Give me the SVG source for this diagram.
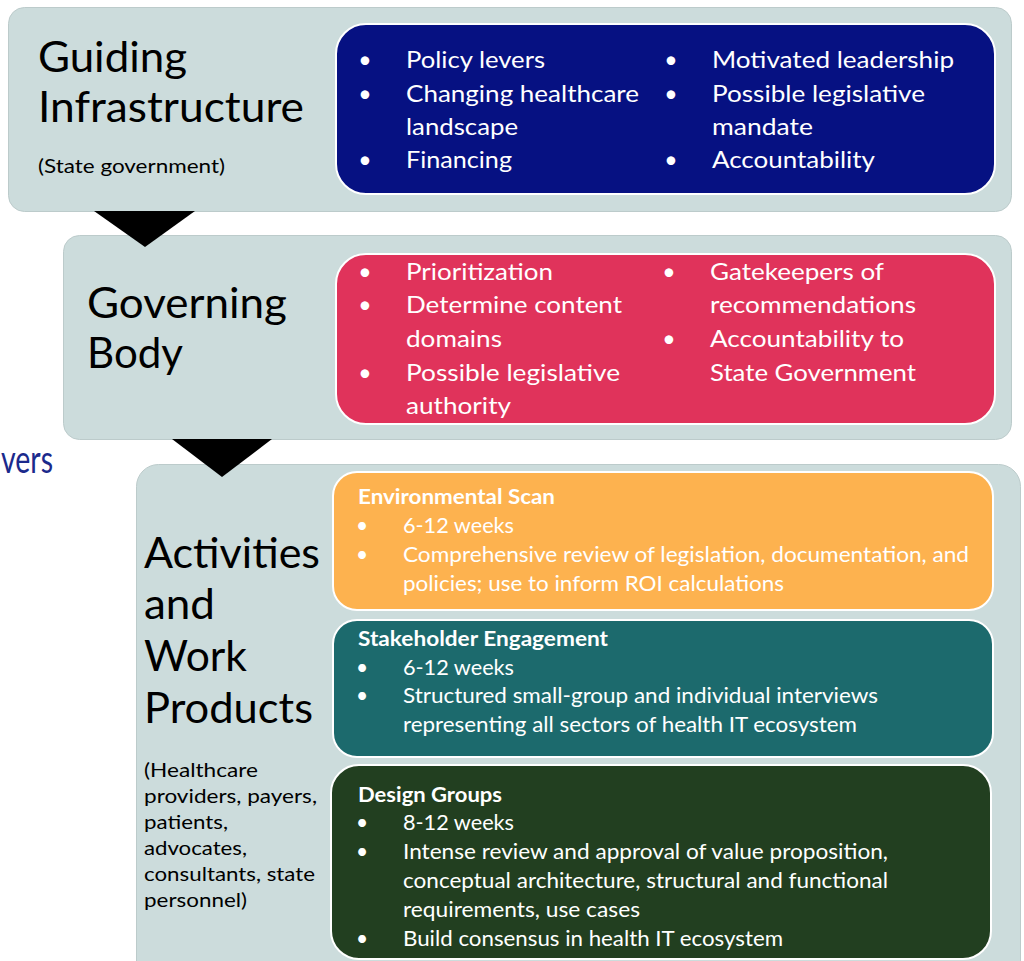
<svg xmlns="http://www.w3.org/2000/svg" width="1024" height="961" viewBox="0 0 1024 961">
<style>
.panel{fill:#CCDCDC;stroke:#BCCBCB;stroke-width:1}
.inner{stroke:#FFFFFF;stroke-width:2}
.t{font-family:Lato,"Liberation Sans",sans-serif;fill:#000}
.title{font-size:42px}
.sub{font-size:20px}
.w{font-family:Lato,"Liberation Sans",sans-serif;fill:#FFFFFF}
.b1{font-size:23px}
.b2{font-size:21px}
.hd{font-size:20px;font-weight:bold}
.dot{text-anchor:middle}
.arrow{fill:#000}
</style>
<rect width="1024" height="961" fill="#FFFFFF"/>
<text x="1" y="473" textLength="52" lengthAdjust="spacingAndGlyphs" font-family="Lato,'Liberation Sans',sans-serif" font-size="38" fill="#1B2A8C">vers</text>
<g id="guiding-infrastructure">
<rect class="panel" x="8.5" y="7.5" width="1003" height="204" rx="16"/>
<text class="t title" x="38" y="72" textLength="149" lengthAdjust="spacingAndGlyphs">Guiding</text>
<text class="t title" x="38" y="122" textLength="266" lengthAdjust="spacingAndGlyphs">Infrastructure</text>
<text class="t sub" x="38" y="173" textLength="187" lengthAdjust="spacingAndGlyphs">(State government)</text>
<rect class="inner" x="336" y="24" width="659" height="170" rx="30" fill="#061182"/>
<g class="w b1">
<text class="dot" x="365" y="68">•</text><text x="406" y="68" textLength="139" lengthAdjust="spacingAndGlyphs">Policy levers</text>
<text class="dot" x="365" y="102">•</text><text x="406" y="102" textLength="233" lengthAdjust="spacingAndGlyphs">Changing healthcare</text>
<text x="406" y="135" textLength="112" lengthAdjust="spacingAndGlyphs">landscape</text>
<text class="dot" x="365" y="168">•</text><text x="406" y="168" textLength="106" lengthAdjust="spacingAndGlyphs">Financing</text>
<text class="dot" x="671" y="68">•</text><text x="712" y="68" textLength="242" lengthAdjust="spacingAndGlyphs">Motivated leadership</text>
<text class="dot" x="671" y="102">•</text><text x="712" y="102" textLength="213" lengthAdjust="spacingAndGlyphs">Possible legislative</text>
<text x="712" y="135" textLength="101" lengthAdjust="spacingAndGlyphs">mandate</text>
<text class="dot" x="671" y="168">•</text><text x="712" y="168" textLength="163" lengthAdjust="spacingAndGlyphs">Accountability</text>
</g>
</g>
<g id="governing-body">
<rect class="panel" x="63.5" y="235.5" width="948" height="204" rx="16"/>
<text class="t title" x="87" y="318" textLength="200" lengthAdjust="spacingAndGlyphs">Governing</text>
<text class="t title" x="87" y="368" textLength="96" lengthAdjust="spacingAndGlyphs">Body</text>
<rect class="inner" x="336" y="254" width="659" height="170" rx="30" fill="#E0335B"/>
<g class="w b1">
<text class="dot" x="365" y="280">•</text><text x="406" y="280" textLength="147" lengthAdjust="spacingAndGlyphs">Prioritization</text>
<text class="dot" x="365" y="313">•</text><text x="406" y="313" textLength="216" lengthAdjust="spacingAndGlyphs">Determine content</text>
<text x="406" y="347" textLength="96" lengthAdjust="spacingAndGlyphs">domains</text>
<text class="dot" x="365" y="381">•</text><text x="406" y="381" textLength="214" lengthAdjust="spacingAndGlyphs">Possible legislative</text>
<text x="406" y="414" textLength="105" lengthAdjust="spacingAndGlyphs">authority</text>
<text class="dot" x="669" y="280">•</text><text x="710" y="280" textLength="174" lengthAdjust="spacingAndGlyphs">Gatekeepers of</text>
<text x="710" y="313" textLength="206" lengthAdjust="spacingAndGlyphs">recommendations</text>
<text class="dot" x="669" y="347">•</text><text x="710" y="347" textLength="194" lengthAdjust="spacingAndGlyphs">Accountability to</text>
<text x="710" y="381" textLength="206" lengthAdjust="spacingAndGlyphs">State Government</text>
</g>
</g>
<g id="activities">
<rect class="panel" x="136.5" y="464.5" width="884" height="520" rx="22"/>
<text class="t title" x="144" y="568" textLength="176" lengthAdjust="spacingAndGlyphs">Activities</text>
<text class="t title" x="144" y="619" textLength="71" lengthAdjust="spacingAndGlyphs">and</text>
<text class="t title" x="144" y="671" textLength="103" lengthAdjust="spacingAndGlyphs">Work</text>
<text class="t title" x="144" y="723" textLength="169" lengthAdjust="spacingAndGlyphs">Products</text>
<text class="t sub" x="144" y="777" textLength="114" lengthAdjust="spacingAndGlyphs">(Healthcare</text>
<text class="t sub" x="144" y="803" textLength="173" lengthAdjust="spacingAndGlyphs">providers, payers,</text>
<text class="t sub" x="144" y="829" textLength="84" lengthAdjust="spacingAndGlyphs">patients,</text>
<text class="t sub" x="144" y="855" textLength="103" lengthAdjust="spacingAndGlyphs">advocates,</text>
<text class="t sub" x="144" y="881" textLength="171" lengthAdjust="spacingAndGlyphs">consultants, state</text>
<text class="t sub" x="144" y="907" textLength="103" lengthAdjust="spacingAndGlyphs">personnel)</text>
</g>
<g id="environmental-scan">
<rect class="inner" x="333" y="472" width="660" height="138" rx="24" fill="#FDB24F"/>
<g class="w b2">
<text class="hd" x="358" y="504" textLength="197" lengthAdjust="spacingAndGlyphs">Environmental Scan</text>
<text class="dot" x="362" y="533">•</text><text x="403" y="533" textLength="111" lengthAdjust="spacingAndGlyphs">6-12 weeks</text>
<text class="dot" x="362" y="562">•</text><text x="403" y="562" textLength="566" lengthAdjust="spacingAndGlyphs">Comprehensive review of legislation, documentation, and</text>
<text x="403" y="591" textLength="381" lengthAdjust="spacingAndGlyphs">policies; use to inform ROI calculations</text>
</g>
</g>
<g id="stakeholder-engagement">
<rect class="inner" x="333" y="620" width="660" height="137" rx="24" fill="#1C6A6D"/>
<g class="w b2">
<text class="hd" x="358" y="646" textLength="250" lengthAdjust="spacingAndGlyphs">Stakeholder Engagement</text>
<text class="dot" x="362" y="675">•</text><text x="403" y="675" textLength="111" lengthAdjust="spacingAndGlyphs">6-12 weeks</text>
<text class="dot" x="362" y="703">•</text><text x="403" y="703" textLength="475" lengthAdjust="spacingAndGlyphs">Structured small-group and individual interviews</text>
<text x="403" y="732" textLength="454" lengthAdjust="spacingAndGlyphs">representing all sectors of health IT ecosystem</text>
</g>
</g>
<g id="design-groups">
<rect class="inner" x="331" y="765" width="660" height="194" rx="28" fill="#223F20"/>
<g class="w b2">
<text class="hd" x="358" y="802" textLength="144" lengthAdjust="spacingAndGlyphs">Design Groups</text>
<text class="dot" x="362" y="830">•</text><text x="403" y="830" textLength="111" lengthAdjust="spacingAndGlyphs">8-12 weeks</text>
<text class="dot" x="362" y="859">•</text><text x="403" y="859" textLength="485" lengthAdjust="spacingAndGlyphs">Intense review and approval of value proposition,</text>
<text x="403" y="888" textLength="485" lengthAdjust="spacingAndGlyphs">conceptual architecture, structural and functional</text>
<text x="403" y="917" textLength="237" lengthAdjust="spacingAndGlyphs">requirements, use cases</text>
<text class="dot" x="362" y="946">•</text><text x="403" y="946" textLength="380" lengthAdjust="spacingAndGlyphs">Build consensus in health IT ecosystem</text>
</g>
</g>
<g id="connectors">
<polygon class="arrow" points="94,211 195,211 145,247"/>
<polygon class="arrow" points="172,439 272,439 222,477"/>
</g>
</svg>
